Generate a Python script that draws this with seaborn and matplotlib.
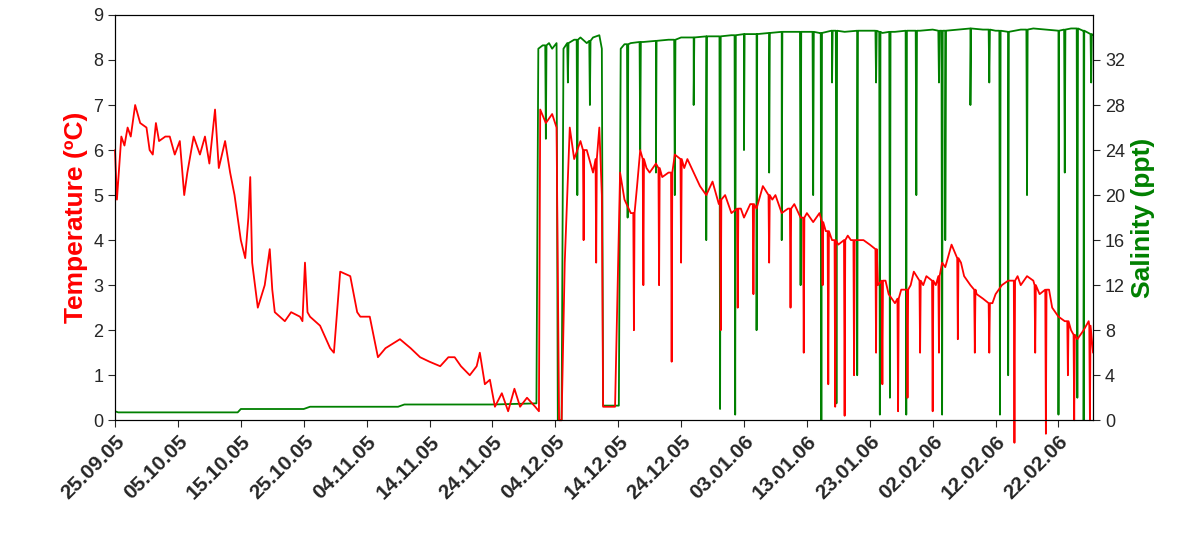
import matplotlib
matplotlib.use("Agg")
import matplotlib.pyplot as plt
import seaborn as sns
import pandas as pd

start = pd.Timestamp("2005-09-25")
tick_labels = ["25.09.05","05.10.05","15.10.05","25.10.05","04.11.05","14.11.05","24.11.05",
               "04.12.05","14.12.05","24.12.05","03.01.06","13.01.06","23.01.06","02.02.06",
               "12.02.06","22.02.06"]

# temperature baseline readings: (day offset from 25.09.05, ºC)
temp_base = [
 (0,6.0),(0.3,4.9),(0.6,5.5),(1,6.3),(1.5,6.1),(2,6.5),(2.5,6.3),(3.2,7.0),(3.6,6.8),(4,6.6),(5,6.5),(5.5,6.0),(6,5.9),
 (6.5,6.6),(7,6.2),(8,6.3),(8.7,6.3),(9.5,5.9),(10.3,6.2),(11,5.0),(11.5,5.5),(12.5,6.3),(13.5,5.9),
 (14.3,6.3),(15,5.7),(15.9,6.9),(16.5,5.6),(17.5,6.2),(18.3,5.5),(19,5.0),(20,4.0),(20.7,3.6),(21.2,4.5),
 (21.5,5.4),(21.8,3.5),(22.7,2.5),(23.8,3.0),(24.6,3.8),(25.0,2.9),(25.4,2.4),(27,2.2),(28,2.4),(29.4,2.3),
 (29.8,2.2),(30.2,3.5),(30.6,2.4),(31,2.3),(32.6,2.1),(34.2,1.6),(34.8,1.5),(35.8,3.3),(37.4,3.2),(38.5,2.4),
 (39,2.3),(40.5,2.3),(41.8,1.4),(43,1.6),(45.3,1.8),(47,1.6),(48.5,1.4),(50,1.3),(51.7,1.2),(53,1.4),
 (54,1.4),(55,1.2),(56.4,1.0),(57.5,1.2),(58,1.5),(58.8,0.8),(59.6,0.9),(60.4,0.3),(61.5,0.6),(62.5,0.2),
 (63.5,0.7),(64.4,0.3),(65.5,0.5),(66.8,0.3),(67.4,0.2),(67.6,6.9),(68.5,6.6),(69.5,6.8),(70.2,6.5),(70.6,0.0),
 (71.0,0.0),(71.5,3.5),(72.3,6.5),(73,5.8),(74,6.2),(75,6.0),(76,5.5),(77,6.5),
 (77.4,5.0),(77.6,0.3),(79.5,0.3),(80.3,5.5),(81,4.9),(82,4.6),(83,5.2),(83.5,6.0),(84.5,5.6),(85,5.5),
 (86,5.7),(87,5.4),(88,5.5),(89,5.9),(90.5,5.6),(91,5.8),(92,5.5),(93,5.2),(94,5.0),(95,5.3),(96,4.8),
 (97,5.0),(98,4.6),(99.5,4.7),(100,4.5),(101,4.8),(102,4.7),(103,5.2),(104.5,4.9),(105,5.0),(106,4.6),
 (107,4.7),(108,4.8),(109,4.5),(110,4.6),(111,4.4),(112,4.6),(113,4.2),(114,4.0),(115,3.9),(116.5,4.1),
 (117,4.0),(118,4.0),(119,4.0),(120,3.9),(121.3,3.0),(122.5,3.1),(123,2.8),(124,2.6),(125,2.9),(126.5,3.0),
 (127,3.3),(128.5,3.0),(129,3.2),(130.5,3.0),(131.5,3.5),(132,3.4),(133,3.9),(134.5,3.5),(135,3.2),(136,3.0),
 (137,2.8),(138,2.7),(139.5,2.6),(140,2.8),(141,3.0),(142,3.1),(143.5,3.2),(144,3.0),(145,3.2),(146,3.1),
 (147,2.8),(148.5,2.9),(149,2.5),(150,2.3),(151,2.2),(152,2.0),(153,1.8),(154,2.0),(154.8,2.2),(155.5,1.5)]

# temperature sharp dips: (day, level around, lowest value)
temp_dips = [
 (74.5,6.0,4.0),(76.5,5.8,3.5),(82.5,4.6,2.0),(84,5.8,3.0),(86.5,5.6,3.0),(88.5,5.5,1.3),(90,5.8,3.5),
 (96.3,4.9,2.0),(99,4.7,2.5),(101.5,4.8,2.8),(104,5.0,3.5),(107.4,4.7,2.5),(109.5,4.5,1.5),(112.5,4.4,3.0),
 (113.4,4.2,0.8),(114.5,4.0,0.3),(116,4.0,0.1),(117.5,4.0,1.0),(121,3.8,1.5),(122,3.1,0.8),(124.5,2.7,0.2),
 (126,2.9,0.5),(128,3.1,1.5),(130,3.1,0.2),(131,3.2,1.5),(134,3.6,1.8),(136.7,2.9,1.5),(139,2.6,1.5),
 (143,3.1,-0.5),(146.3,3.0,1.5),(148,2.9,-0.3),(151.5,2.2,1.0),(152.5,1.9,0.0),(155,2.1,0.0)]

# salinity readings: (day offset, ppt)
sal_base = [
 (0,0.8),(0.5,0.7),(19.5,0.7),(20,1.0),(30,1.0),(31,1.2),(45,1.2),(46,1.4),(60,1.4),(67.0,1.5),
 (67.3,33),(68,33.3),(69,33.5),(69.5,33),(70.2,33.5),(70.4,0.0),(71.0,0.0),(71.3,33),
 (73,33.8),(74,34),(75,33.5),(76,34),(77,34.2),(77.4,33),(77.6,1.3),(80.1,1.3),
 (80.4,33),(81,33.4),(82,33.5),(84,33.6),(86,33.7),(88,33.8),(90,34),(92,34),(94,34.1),(96,34.1),
 (98,34.2),(100,34.3),(102,34.3),(104,34.4),(106,34.5),(108,34.5),(110,34.5),(112,34.4),(114,34.6),
 (116,34.5),(118,34.6),(120,34.6),(122,34.4),(124,34.5),(126,34.6),(128,34.6),(130,34.7),(132,34.6),
 (134,34.7),(136,34.8),(138,34.7),(140,34.6),(142,34.5),(144,34.7),(146,34.8),(148,34.7),(150,34.6),
 (152,34.8),(154,34.6),(155.5,34.2)]

# salinity sharp dips: (day, level around, lowest value)
sal_dips = [
 (68.5,33.3,25),(72,33.5,30),(73.5,33.8,20),(75.5,33.7,28),(81.5,33.4,18),(83.5,33.6,24),(86,33.7,22),
 (89,33.8,20),(92,34,28),(94,34.1,16),(96.2,34.1,1.0),(98.6,34.2,0.5),(100,34.3,24),(102,34.3,8),
 (104,34.4,22),(106,34.5,16),(109,34.5,12),(111,34.5,20),(112.3,34.4,0.0),(114,34.6,30),(114.7,34.6,1.5),
 (118,34.6,4),(121,34.6,30),(121.6,34.5,0.5),(123.2,34.5,2),(125.8,34.6,0.5),(127.4,34.6,20),(131,34.6,30),
 (131.5,34.6,0.5),(132,34.6,16),(136,34.8,28),(139,34.7,30),(140.7,34.6,0.5),(142,34.5,4),(145,34.7,20),
 (150,34.6,0.5),(151,34.7,22),(153,34.8,2),(154,34.6,0.0),(155.2,34.3,30)]

def merge(base, dips, w):
    pts = list(base)
    for d, lvl, low in dips:
        pts += [(d - w, lvl), (d, low), (d + w, lvl)]
    pts.sort(key=lambda p: p[0])
    return pd.DataFrame({"date": [start + pd.Timedelta(days=p[0]) for p in pts],
                         "v": [p[1] for p in pts]})

temp = merge(temp_base, temp_dips, 0.1)
sal = merge(sal_base, sal_dips, 0.1)

sns.set_style("white")
plt.rcParams["font.family"] = ["Liberation Sans", "DejaVu Sans"]
fig = plt.figure(figsize=(11.92, 5.34), dpi=100)
ax = fig.add_axes([0.0965, 0.213, 0.8205, 0.759])
ax2 = ax.twinx()
sns.lineplot(data=sal, x="date", y="v", ax=ax2, color="#008000", lw=1.3, estimator=None, sort=False)
sns.lineplot(data=temp, x="date", y="v", ax=ax, color="#ff0000", lw=1.3, estimator=None, sort=False)
for ln in ax.get_lines():
    ln.set_clip_on(False)
ax.set_zorder(ax2.get_zorder() + 1)
ax.patch.set_visible(False)

ax.set_xlim(start, start + pd.Timedelta(days=155.5))
ax.set_ylim(0, 9)
ax2.set_ylim(0, 36)
ax.set_yticks(range(0, 10))
ax2.set_yticks(range(0, 33, 4))
ticks = [start + pd.Timedelta(days=10 * i) for i in range(len(tick_labels))]
ax.set_xticks(ticks)
ax.set_xticklabels(tick_labels, rotation=45, ha="right", rotation_mode="anchor", fontsize=15, fontweight="bold")
ax.tick_params(axis="y", labelsize=13, direction="out", length=5, left=True)
ax2.tick_params(axis="y", labelsize=13, direction="out", length=5, right=True)
ax.tick_params(axis="x", direction="out", length=5, bottom=True)
ax.set_xlabel("")
ax2.set_xlabel("")
ax.set_ylabel("Temperature (ºC)", color="#ff0000", fontsize=19, fontweight="bold")
ax2.set_ylabel("Salinity (ppt)", color="#008000", fontsize=19, fontweight="bold")
for a in (ax, ax2):
    for s in a.spines.values():
        s.set_color("black")
fig.savefig("out.png", dpi=100)
